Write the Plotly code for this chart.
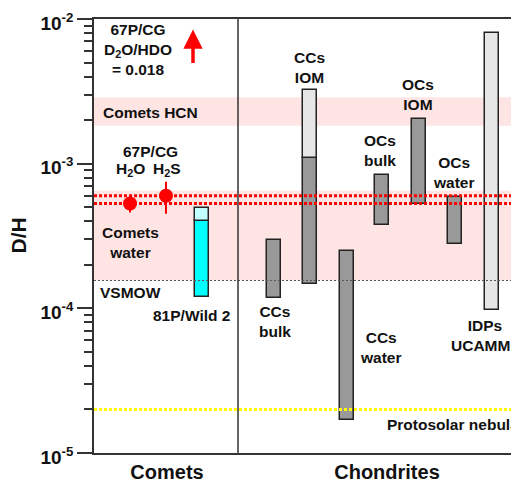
import numpy as np
import plotly.graph_objects as go

# ---- data (D/H ratios) ----
# range bars: x slot, low, high, fill kind
bar_names = ['81P/Wild 2', '81P/Wild 2 upper', 'CCs bulk', 'CCs IOM', 'CCs IOM upper',
             'CCs water', 'OCs bulk', 'OCs IOM', 'OCs water', 'IDPs UCAMMs']
bar_x = [10.8, 10.8, 18.0, 21.6, 21.6, 25.3, 28.8, 32.5, 36.1, 39.8]
bar_low = [1.2e-4, 4.01e-4, 1.18e-4, 1.47e-4, 1.09e-3, 1.68e-5, 3.74e-4, 5.28e-4, 2.79e-4, 9.8e-5]
bar_high = [4.01e-4, 4.91e-4, 2.98e-4, 1.09e-3, 3.21e-3, 2.5e-4, 8.36e-4, 2.03e-3, 5.85e-4, 7.94e-3]
bar_kind = ['cyan', 'lightcyan', 'dark', 'dark', 'light', 'dark', 'dark', 'dark', 'dark', 'light']

# 67P/CG points
pt_names = ['H2O', 'H2S']
pt_x = [3.6, 7.2]
pt_dh = [5.3e-4, 6.0e-4]
pt_err = [0.7e-4, 1.5e-4]

# reference levels / bands
hcn_band = [1.83e-3, 2.88e-3]
water_band = [1.558e-4, 6.5e-4]
vsmow = 1.558e-4
rosetta_lines = [5.3e-4, 6.0e-4]
protosolar = 2.0e-5
d2o_arrow = [4.84e-3, 8.46e-3]

group_names = ['Comets', 'Chondrites']
group_x = [7.3, 29.3]
divider_x = 14.4

y_ticks = [1e-5, 1e-4, 1e-3, 1e-2]
y_ticktext = ['10<sup>-5</sup>', '10<sup>-4</sup>', '10<sup>-3</sup>', '10<sup>-2</sup>']

colors = {'dark': '#999999', 'light': '#e6e6e6', 'cyan': '#00ffff', 'lightcyan': '#c4ffff'}
FONT = 'Liberation Sans, Arial, sans-serif'

fig = go.Figure()

# bands and reference lines
band_color = 'rgba(255,225,225,0.9)'
for lo, hi in [hcn_band, water_band]:
    fig.add_shape(type='rect', xref='paper', yref='y', x0=0, x1=1, y0=lo, y1=hi,
                  fillcolor=band_color, line=dict(width=0), layer='below')

fig.add_shape(type='line', xref='paper', yref='y', x0=0, x1=1, y0=vsmow, y1=vsmow,
              line=dict(color='#555555', width=1.2, dash='2px,2px'))
for v in rosetta_lines:
    fig.add_shape(type='line', xref='paper', yref='y', x0=0, x1=1, y0=v, y1=v,
                  line=dict(color='#ff0000', width=3, dash='3px,2px'))
fig.add_shape(type='line', xref='paper', yref='y', x0=0, x1=1, y0=protosolar, y1=protosolar,
              line=dict(color='#ffff00', width=3, dash='3px,2px'))

# divider between comets and chondrites
fig.add_shape(type='line', xref='x', yref='paper', x0=divider_x, x1=divider_x, y0=0, y1=1,
              line=dict(color='#333333', width=1.5))

# range bars
fig.add_trace(go.Bar(
    x=bar_x,
    y=[h - l for h, l in zip(bar_high, bar_low)],
    base=bar_low,
    width=1.4,
    marker=dict(color=[colors[k] for k in bar_kind], line=dict(color='#222222', width=1.5)),
    hovertext=bar_names,
    showlegend=False
))

# 67P/CG measurements
fig.add_trace(go.Scatter(
    x=pt_x, y=pt_dh, mode='markers',
    marker=dict(color='#ff0000', size=14),
    error_y=dict(type='data', array=pt_err, color='#ff0000', thickness=2, width=0),
    hovertext=pt_names,
    showlegend=False
))

# D2O/HDO arrow (lower limit pointing off the top)
fig.add_annotation(x=9.9, y=np.log10(d2o_arrow[1]), ax=9.9, ay=np.log10(d2o_arrow[0]),
                   xref='x', yref='y', axref='x', ayref='y', text='', showarrow=True,
                   arrowhead=2, arrowsize=1.1, arrowwidth=3.5, arrowcolor='#ff0000')

labels = [
    ('67P/CG<br>D<sub>2</sub>O/HDO<br>= 0.018', 4.4, -2.211, 'center'),
    ('Comets HCN', 0.67, -2.647, 'left'),
    ('67P/CG', 5.6, -2.917, 'center'),
    ('H<sub>2</sub>O', 3.6, -3.042, 'center'),
    ('H<sub>2</sub>S', 7.27, -3.042, 'center'),
    ('Comets<br>water', 3.6, -3.547, 'center'),
    ('VSMOW', 0.4, -3.893, 'left'),
    ('81P/Wild 2', 9.7, -4.052, 'center'),
    ('CCs<br>IOM', 21.5, -2.336, 'center'),
    ('OCs<br>IOM', 32.4, -2.519, 'center'),
    ('OCs<br>bulk', 28.6, -2.907, 'center'),
    ('OCs<br>water', 36.0, -3.059, 'center'),
    ('CCs<br>bulk', 18.07, -4.091, 'center'),
    ('CCs<br>water', 28.67, -4.269, 'center'),
    ('IDPs<br>UCAMMs', 39.1, -4.19, 'center'),
    ('Protosolar nebula', 29.05, -4.806, 'left'),
]
for text, lx, ly, anchor in labels:
    fig.add_annotation(x=lx, y=ly, xref='x', yref='y', text=text, showarrow=False,
                       xanchor=anchor, yanchor='middle',
                       font=dict(family=FONT, size=15.5, color='#111111', weight='bold'))

fig.add_annotation(x=-0.18, y=0.5, xref='paper', yref='paper', text='D/H', textangle=-90,
                   xanchor='center', yanchor='middle', showarrow=False,
                   font=dict(family=FONT, size=21, color='#111111', weight='bold'))

# page body adds an 8px margin, so the figure is 8px smaller and margins shifted
fig.update_layout(
    width=511, height=475,
    margin=dict(l=86, r=0, t=11, b=30, autoexpand=False),
    plot_bgcolor='white', paper_bgcolor='white',
    bargap=0,
    xaxis=dict(range=[0, 42.5], showgrid=False, zeroline=False, automargin=False,
               showline=True, linecolor='#333333', linewidth=1.5, mirror=True,
               tickvals=group_x, ticktext=group_names, ticks='',
               tickfont=dict(family=FONT, size=20, color='#111111', weight='bold')),
    yaxis=dict(type='log', range=[-5, -2], showgrid=False, zeroline=False, automargin=False,
               showline=True, linecolor='#333333', linewidth=1.5,
               tickvals=y_ticks, ticktext=y_ticktext, ticklabeloverflow='allow',
               ticklabelshift=4,
               ticks='outside', ticklen=15, tickwidth=1.5, tickcolor='#333333',
               tickfont=dict(family=FONT, size=19, color='#111111', weight='bold'),
               minor=dict(ticks='outside', ticklen=8, tickwidth=1.5, tickcolor='#333333',
                          tickvals=[m * d for d in [1e-5, 1e-4, 1e-3] for m in range(2, 10)])),
)

fig.write_html("out.html")
